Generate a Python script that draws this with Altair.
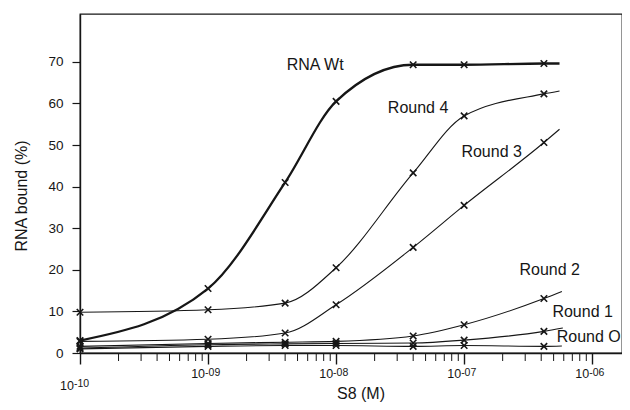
import altair as alt
import pandas as pd

# ---- data ----
conc = [1e-10, 1e-9, 4e-9, 1e-8, 4e-8, 1e-7, 4.2e-7]
series_names = ["RNA Wt", "Round 4", "Round 3", "Round 2", "Round 1", "Round O"]
rna_wt = [3.0, 15.5, 41.0, 60.5, 69.3, 69.3, 69.6]
round4 = [9.8, 10.4, 12.0, 20.5, 43.3, 57.0, 62.3]
round3 = [2.8, 3.3, 4.8, 11.6, 25.4, 35.5, 50.6]
round2 = [1.6, 2.3, 2.6, 2.8, 4.1, 6.8, 13.1]
round1 = [1.2, 2.0, 2.2, 2.3, 2.4, 3.1, 5.2]
round0 = [1.0, 1.6, 1.8, 1.8, 1.6, 1.8, 1.6]
series_values = [rna_wt, round4, round3, round2, round1, round0]
# where each drawn curve ends (beyond the last measured point)
tail_conc = [5.56e-7, 5.56e-7, 5.56e-7, 5.8e-7, 5.9e-7, 5.8e-7]
tail_bound = [69.6, 63.0, 53.8, 14.8, 6.0, 1.7]

# curve labels (anchor in data coordinates)
label_conc = [6.86e-9, 4.37e-8, 1.64e-7, 4.66e-7, 8.43e-7, 9.4e-7]
label_bound = [68.0, 57.7, 47.1, 18.75, 8.65, 2.6]

# axis ticks
decades = [1e-10, 1e-9, 1e-8, 1e-7, 1e-6]
decade_base = ["10", "10", "10", "10", "10"]
decade_exp = ["-10", "-09", "-08", "-07", "-06"]
minor_ticks = [m * d for d in [1e-10, 1e-9, 1e-8, 1e-7] for m in range(2, 10)]
y_ticks = [0, 10, 20, 30, 40, 50, 60, 70]

# ---- tables ----
rows = []
for i, (name, vals) in enumerate(zip(series_names, series_values)):
    for c, v in zip(conc, vals):
        rows.append({"series": name, "conc": c, "bound": v, "kind": "point"})
    rows.append({"series": name, "conc": tail_conc[i], "bound": tail_bound[i], "kind": "tail"})
df = pd.DataFrame(rows)

lab_df = pd.DataFrame({"conc": label_conc, "bound": label_bound, "text": series_names})
minor_df = pd.DataFrame({"conc": minor_ticks})
tick_df = pd.DataFrame({"conc": decades, "base": decade_base, "exp": decade_exp})

FONT = "Liberation Sans"
INK = "#161616"
W, H = 542, 339

xscale = alt.Scale(type="log", domain=[1e-10, 1.71e-6], nice=False)
yscale = alt.Scale(domain=[0, 81.5], nice=False, zero=True)

x_axis = alt.Axis(
    values=decades, labels=False, tickSize=11, tickWidth=1.4, tickColor=INK,
    domainColor=INK, domainWidth=1.4, grid=False,
    title="S8 (M)", titleFont=FONT, titleFontSize=16, titleFontWeight="normal",
    titleColor=INK, titleX=280.5, titleY=45, titleBaseline="alphabetic",
)
y_axis = alt.Axis(
    values=y_ticks, tickSize=8, tickWidth=1.2, tickColor=INK, labelPadding=9,
    labelFont=FONT, labelFontSize=13.5, labelColor=INK,
    domainColor=INK, domainWidth=1.4, grid=False,
    title="RNA bound (%)", titleFont=FONT, titleFontSize=16, titleFontWeight="normal",
    titleColor=INK, titleX=-54, titleY=181.5, titleBaseline="alphabetic", titleAngle=270,
)

X = alt.X("conc:Q", scale=xscale, axis=x_axis)
Y = alt.Y("bound:Q", scale=yscale, axis=y_axis)

base = alt.Chart(df).encode(x=X, y=Y)

thin_lines = base.transform_filter(alt.datum.series != "RNA Wt").mark_line(
    interpolate="monotone", color=INK, strokeWidth=1.1
).encode(detail="series:N")

thick_line = base.transform_filter(alt.datum.series == "RNA Wt").mark_line(
    interpolate="monotone", color=INK, strokeWidth=2.3
)

XSHAPE = "M-1,-1L1,1M-1,1L1,-1"
points = base.transform_filter(alt.datum.kind == "point").mark_point(
    shape=XSHAPE, size=42, filled=False, strokeWidth=1.6, color=INK, opacity=1
)

labels = alt.Chart(lab_df).mark_text(
    font=FONT, fontSize=16, align="center", baseline="alphabetic", color=INK
).encode(x=X, y=Y, text="text:N")

minor = alt.Chart(minor_df).mark_rule(color=INK, strokeWidth=1).encode(
    x=X, y=alt.value(H), y2=alt.value(H + 8)
)

first_tick = tick_df.iloc[:1]
other_ticks = tick_df.iloc[1:]

tl_base = alt.Chart(other_ticks).mark_text(
    font=FONT, fontSize=12.5, align="right", dx=-3, baseline="alphabetic", color=INK
).encode(x=X, y=alt.value(H + 25), text="base:N")
tl_exp = alt.Chart(other_ticks).mark_text(
    font=FONT, fontSize=10.5, align="left", dx=-3, baseline="alphabetic", color=INK
).encode(x=X, y=alt.value(H + 23), text="exp:N")
tl_base0 = alt.Chart(first_tick).mark_text(
    font=FONT, fontSize=12.5, align="right", dx=-6, baseline="alphabetic", color=INK
).encode(x=X, y=alt.value(H + 37), text="base:N")
tl_exp0 = alt.Chart(first_tick).mark_text(
    font=FONT, fontSize=10.5, align="left", dx=-6, baseline="alphabetic", color=INK
).encode(x=X, y=alt.value(H + 34), text="exp:N")

chart = alt.layer(
    minor, thin_lines, thick_line, points, labels, tl_base, tl_exp, tl_base0, tl_exp0
).properties(
    width=W, height=H,
    autosize=alt.AutoSizeParams(type="none"),
    padding={"left": 72, "top": 6, "right": 0, "bottom": 49},
    background="white",
).configure_view(stroke=INK, strokeWidth=1.3)

chart.save("out.html", embed_options={"renderer": "svg", "actions": False})
